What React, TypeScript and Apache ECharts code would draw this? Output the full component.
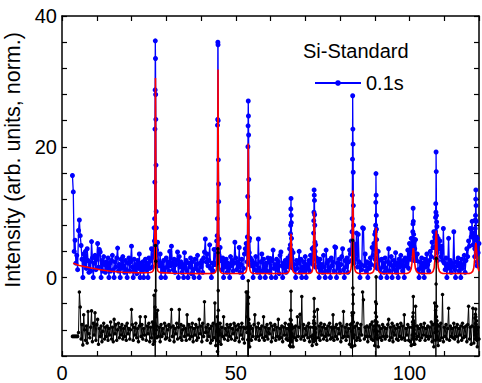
import { useEffect, useRef } from "react";
import * as echarts from "echarts";

// ---- data ----
const X_START = 3;
const X_STEP = 0.25;

// observed intensity (blue), 0.25 deg grid from 3 to 120; null = replaced by fine peak points
const obsGrid: (number | null)[] = [
  15.6, 13.1, 4.0, 5.7, 2.2, 3.4, 1.2, 7.2, 8.8, 6.4, 4.9, 2.8, 0, 3.6, 2.0, 4.0, 1.4, 4.4, 2.6, 0.8,
  2.4, 1.0, 5.5, 3.0, 0, 2.2, 3.4, 1.2, 2.8, 5.2, 1.6, 4.3, 3.9, 0, 2.6, 1.0, 3.2, 2.0, 0.8, 2.4,
  1.4, 3.0, 0, 2.2, 1.0, 2.6, 3.4, 1.2, 0, 2.4, 1.6, 3.0, 4.5, 1.0, 2.0, 0, 2.8, 1.4, 3.2, 1.8,
  0.8, 2.6, 1.2, 0, 2.2, 3.0, 1.0, 2.4, 4.8, 1.6, 0, 2.8, 1.2, 2.0, 0.6, 2.6, 1.4, 3.6, 0, 2.2,
  1.0, 2.4, 0, 1.8, 2.8, 1.2, 2.2, 0, 3.0, 1.4, 2.6, 4.4, 1.6, 4.2, 7.6, null, null, null, 5.4, 2.4,
  1.8, 3.6, 0, 2.2, 1.0, 2.6, 1.4, 0, 3.0, 1.6, 2.4, 1.0, 4.0, 1.8, 4.8, 2.2, 1.2, 2.8, 0.8, 2.0,
  2.6, 3.9, 0, 3.2, 1.6, 2.4, 0.8, 2.0, 0, 3.8, 1.4, 2.6, 1.0, 0, 2.2, 1.6, 3.0, 0.6, 2.4, 1.2,
  0, 2.8, 1.4, 2.0, 3.4, 1.0, 0, 2.2, 1.6, 2.6, 0.8, 3.0, 3.9, 5.9, 2.4, 3.6, 1.8, 2.6, 5.0, 1.4,
  0, 2.2, 1.0, 4.3, 2.0, 4.2, 5.6, null, null, null, 4.6, 2.6, 1.2, 3.0, 0, 2.4, 1.6, 2.8, 0.8, 2.2,
  1.4, 0, 3.2, 1.8, 2.6, 1.0, 2.2, 5.4, 3.0, 1.2, 2.4, 1.6, 4.6, 0.8, 2.0, 2.8, 0, 1.4, 3.6, 4.4,
  5.2, null, null, null, 6.0, 3.0, 1.8, 2.6, 0, 2.2, 1.2, 3.2, 2.0, 0.8, 5.9, 1.4, 0, 2.4, 3.6, 1.0,
  2.8, 1.6, 0, 2.2, 1.0, 3.0, 2.4, 0.8, 2.9, 0, 2.6, 4.2, 1.4, 2.0, 0, 2.8, 1.2, 2.4, 0.6, 3.4,
  3.9, 1.8, 0, 2.2, 1.4, 2.6, 0.8, 2.0, 3.0, 1.6, 4.4, null, null, null, 3.8, 2.0, 1.2, 0, 2.6, 1.4,
  2.2, 4.0, 0.8, 2.8, 0, 1.6, 2.4, 1.0, 3.2, 0, 2.0, 1.4, 2.6, 1.0, 3.4, 2.2, 4.4, null, null, null,
  5.0, 3.0, 1.6, 2.4, 0, 2.8, 1.2, 2.0, 0.8, 3.4, 1.6, 0, 4.2, 2.2, 1.0, 2.6, 1.4, 0, 3.0, 1.8,
  2.4, 1.0, 4.7, 4.6, 0, 2.2, 1.4, 2.8, 0.8, 2.0, 3.2, 4.4, 1.2, 0, 2.6, 1.6, 3.0, 0.8, 2.4, 4.2,
  3.6, 5.6, null, null, null, 4.8, 2.8, 6.8, 1.6, 6.6, 2.4, 0, 2.0, 1.2, 7.6, 7.5, 1.8, 3.6, 1.0, 2.4,
  0, 2.2, 1.4, 3.0, 2.0, 4.6, 3.4, 5.2, 6.6, null, null, null, 4.0, 2.6, 1.2, 0, 2.8, 1.6, 2.2, 0.8,
  3.0, 1.4, 0, 2.4, 4.4, 1.0, 2.0, 3.2, 0, 1.8, 2.6, 1.2, 3.8, 0.8, 2.2, 0, 2.8, 1.6, 3.4, 2.0,
  1.0, 2.6, 0, 3.0, 1.8, 2.4, 4.2, 1.4, 5.2, 2.8, 6.0, null, null, null, 4.4, 5.8, 2.6, 3.6, 1.2, 0,
  2.4, 1.4, 3.0, 0.8, 2.2, 0, 2.8, 1.6, 3.6, 2.0, 1.0, 2.6, 4.0, 3.2, 5.4, 4.6, 7.0, 6.2, null, null,
  null, 6.0, 4.4, 5.6, 3.2, 4.8, 2.6, 7.5, 2.2, 1.2, 3.0, 0, 2.0, 6.0, 1.4, 2.6, 0.8, 2.2, 1.6, 7.0,
  1.2, 0, 2.4, 1.8, 3.0, 1.0, 2.2, 0, 2.8, 1.4, 2.0, 3.4, 0.8, 2.6, 4.4, 3.2, 5.6, 4.8, 7.5, 6.2,
  8.6, 5.0, 6.8, null, null, null, 6.0, 3.8, 5.2,
];

// difference curve (black, offset), same grid
const diffGrid: (number | null)[] = [
  -9.0, -9.0, -9.0, -9.0, -9.0, -9.0, -9.0, -8.4, -2.2, -4.5, -9.4, -7.2, -10.3, -5.7, -8.0, -9.6, -7.4, -10.0, -5.2, -8.6,
  -9.2, -7.6, -5.1, -9.8, -7.0, -8.8, -5.4, -9.6, -7.2, -6.4, -10.2, -7.8, -9.0, -7.4, -9.8, -8.2, -7.0, -9.4, -7.6, -9.0,
  -7.4, -9.6, -7.8, -8.8, -6.8, -9.4, -7.6, -9.8, -6.4, -8.6, -7.2, -9.6, -8.0, -7.0, -9.2, -7.6, -8.8, -7.2, -9.4, -7.8,
  -9.0, -7.4, -9.6, -7.0, -8.6, -7.8, -9.4, -8.0, -4.9, -7.2, -9.6, -7.6, -8.8, -7.0, -9.2, -7.8, -9.8, -7.4, -6.0, -9.0,
  -7.2, -9.4, -7.8, -8.8, -6.0, -9.6, -7.4, -8.6, -7.0, -9.8, -7.6, -9.2, -6.8, -10.2, -2.7, null, null, null, -5.0, -9.0,
  -7.6, -9.8, -7.2, -9.0, -7.8, -8.6, -7.0, -9.4, -7.4, -9.2, -8.0, -7.2, -9.6, -7.6, -4.9, -9.0, -7.4, -9.8, -7.8, -8.6,
  -7.0, -9.4, -7.6, -4.9, -9.2, -7.2, -9.6, -8.0, -7.4, -9.0, -7.8, -9.6, -5.7, -8.8, -7.2, -9.4, -7.6, -9.0, -7.0, -9.8,
  -7.8, -8.8, -7.2, -9.6, -7.6, -9.2, -6.4, -8.6, -7.4, -9.8, -7.0, -9.0, -3.7, -8.4, -7.6, -9.6, -7.2, -9.0, -7.8, -10.0,
  -7.4, -9.6, -7.0, -9.2, -3.9, -10.4, -7.2, null, null, null, -7.0, -10.2, -7.6, -9.0, -6.0, -9.4, -7.8, -8.8, -7.2, -9.6,
  -7.6, -9.0, -7.2, -9.4, -7.8, -8.6, -7.0, -9.6, -7.4, -9.2, -8.0, -7.2, -9.8, -7.6, -8.8, -7.0, -9.4, -7.6, -10.0, -7.8,
  -2.2, null, null, null, -10.6, -7.4, -9.6, -7.8, -9.0, -7.2, -5.7, -9.4, -7.6, -9.0, -7.0, -9.6, -7.8, -8.8, -7.4, -9.2,
  -6.0, -9.6, -7.6, -9.0, -7.2, -9.4, -7.8, -8.6, -7.0, -9.8, -7.4, -9.2, -8.0, -7.2, -9.6, -7.6, -9.0, -6.4, -9.4, -7.8,
  -9.2, -7.4, -9.8, -7.6, -8.8, -7.0, -9.4, -7.8, -9.6, -7.2, -10.4, null, null, null, -10.6, -7.6, -9.2, -7.4, -9.6, -6.0,
  -9.0, -7.6, -5.6, -9.4, -2.9, -9.0, -7.2, -9.6, -7.8, -8.8, -7.4, -9.2, -7.0, -9.8, -7.6, -9.0, -10.4, null, null, null,
  -7.8, -10.2, -4.9, -9.2, -7.4, -9.6, -7.0, -8.8, -7.6, -9.4, -7.2, -9.0, -7.8, -9.6, -7.4, -8.8, -7.0, -9.4, -7.6, -9.2,
  -5.7, -9.6, -7.6, -9.0, -7.2, -9.4, -7.8, -8.6, -7.0, -9.8, -7.4, -9.2, -5.2, -9.0, -7.6, -9.6, -7.2, -9.0, -7.8, -10.2,
  -7.2, -10.6, null, null, null, -10.4, -7.4, -9.6, -7.0, -9.2, -7.8, -9.6, -7.2, -8.8, -2.2, -3.4, -9.4, -7.6, -9.0, -7.4,
  -9.8, -7.6, -9.0, -7.2, -9.4, -6.8, -9.6, -7.4, -10.4, null, null, null, -10.6, -7.4, -9.2, -7.8, -9.6, -7.2, -9.0, -7.6,
  -9.4, -7.8, -9.0, -7.2, -6.4, -9.6, -7.6, -9.2, -7.0, -9.8, -7.4, -8.8, -7.8, -9.4, -7.2, -9.6, -7.6, -9.0, -7.0, -9.4,
  -7.4, -9.2, -5.7, -9.6, -7.8, -8.8, -7.2, -9.6, -7.6, -9.8, -10.4, null, null, null, -10.2, -4.4, -9.4, -7.4, -9.0, -7.8,
  -9.6, -7.2, -9.2, -7.6, -8.8, -7.0, -9.6, -7.8, -9.0, -7.4, -9.4, -7.6, -9.0, -6.8, -9.8, -7.2, -10.6, -3.9, null, null,
  null, -10.4, -7.4, -9.6, -7.0, -9.2, -2.6, -9.8, -7.6, -9.0, -7.2, -9.4, -7.8, -4.7, -9.6, -7.4, -9.0, -7.8, -9.2, -7.0,
  -9.4, -7.6, -9.0, -7.2, -9.8, -7.8, -8.8, -7.4, -9.6, -7.0, -9.2, -7.6, -9.0, -7.4, -9.8, -7.2, -4.4, -9.4, -7.6, -10.2,
  -7.4, -4.7, -10.0, null, null, null, -10.6, -7.6, -9.4,
];

// Bragg peaks: centres, and finely sampled points (0.05 deg, 15 points centred on each peak)
const peakCenters = [26.9, 44.9, 53.6, 65.9, 72.6, 83.7, 90.4, 101.1, 107.7, 119.1];
const PEAK_STEP = 0.05;

const obsPeaks: number[][] = [
  [3.1, 5.6, 9.0, 14.6, 22.7, 28.7, 36.2, 33.5, 28.0, 24.2, 17.2, 10.1, 7.6, 4.2, 2.5],
  [2.2, 4.3, 6.4, 9.0, 23.3, 24.2, 36.0, 35.6, 24.0, 18.0, 14.3, 11.6, 5.9, 3.4, 2.6],
  [2.4, 4.0, 6.2, 9.6, 12.4, 20.0, 23.2, 27.0, 24.7, 21.8, 15.0, 9.2, 5.6, 3.8, 2.0],
  [1.8, 2.6, 3.4, 5.0, 6.7, 8.0, 10.5, 12.1, 9.5, 8.4, 6.0, 4.2, 3.0, 2.2, 1.5],
  [2.0, 3.2, 4.6, 6.8, 8.7, 10.0, 13.4, 12.6, 11.8, 9.6, 8.0, 5.4, 4.0, 2.8, 1.6],
  [2.6, 4.2, 7.0, 9.0, 12.6, 18.1, 27.8, 22.7, 20.4, 16.1, 11.0, 8.0, 5.2, 3.4, 2.2],
  [1.8, 2.8, 4.4, 7.0, 8.0, 11.5, 15.9, 12.6, 9.5, 7.4, 5.8, 4.0, 2.9, 2.0, 1.4],
  [2.8, 3.6, 5.2, 4.6, 7.0, 8.2, 10.6, 8.6, 5.9, 6.6, 4.8, 5.4, 3.6, 2.6, 3.2],
  [3.0, 4.6, 7.0, 9.2, 11.3, 10.0, 19.2, 16.2, 9.5, 8.5, 6.4, 7.8, 5.0, 3.8, 2.6],
  [3.2, 4.4, 5.8, 7.5, 8.8, 9.5, 12.0, 13.4, 11.0, 8.6, 6.2, 4.6, 3.5, 2.4, 1.8],
];

const diffPeaks: number[][] = [
  [-8.6, -7.2, -9.8, -7.0, -4.5, -12.5, -15, 4.9, -2.0, 2.5, -6.0, -5.5, -8.0, -7.4, -9.2],
  [-8.2, -9.6, -7.4, -6.0, -11.3, -20, 4.4, 3.8, -2.0, -5.0, -13, -7.0, -9.8, -8.0, -8.8],
  [-8.4, -7.6, -6.0, -2.2, -9.5, -14, -4.0, -0.5, -13, -3.0, -6.4, -7.0, -9.4, -7.8, -8.6],
  [-8.0, -9.2, -7.6, -6.4, -8.8, -10.6, -5.0, -2.1, -6.5, -7.2, -9.8, -7.4, -8.6, -7.8, -9.0],
  [-8.8, -7.6, -9.4, -7.0, -6.6, -9.8, -3.2, -6.0, -5.2, -8.6, -7.0, -9.6, -7.6, -8.4, -9.2],
  [-8.2, -7.0, -5.4, -10.6, -5.8, -13, 5.7, -1.6, -4.0, -2.6, -6.8, -5.4, -9.2, -7.6, -8.8],
  [-8.0, -6.6, -9.2, -5.4, -3.7, -8.2, -12.8, 0.1, -4.0, -6.0, -7.2, -8.8, -6.8, -9.4, -8.2],
  [-7.6, -8.8, -6.8, -9.4, -6.0, -7.2, -5.4, -2.9, -6.6, -10.2, -7.0, -8.0, -9.0, -7.4, -8.6],
  [-8.4, -7.0, -9.6, -5.0, -7.8, -13, -1.0, 2.9, -6.0, -4.4, -9.0, -6.6, -8.2, -7.2, -9.4],
  [-7.6, -8.8, -6.2, -9.4, -5.6, -7.0, -4.8, -6.0, -8.6, -7.2, -9.2, -6.6, -8.0, -9.6, -7.8],
];

// fitted profile (red): [2theta, intensity]
const fitCurve: [number, number][] = [
  [3.2, 2.2], [5, 1.85], [8, 1.5], [11, 1.2], [14, 0.95], [17.5, 0.8], [21, 0.75], [24, 0.74],
  [25.4, 0.78], [25.9, 0.85], [26.2, 1.0], [26.4, 1.4], [26.55, 2.2], [26.65, 3.6], [26.75, 8.5], [26.82, 18],
  [26.9, 30.5], [26.98, 18], [27.05, 8.5], [27.15, 3.6], [27.25, 2.2], [27.4, 1.4], [27.6, 1.0], [27.9, 0.85],
  [28.4, 0.75], [32, 0.65], [36, 0.62], [40, 0.6],
  [43.4, 0.62], [43.9, 0.7], [44.2, 0.85], [44.4, 1.2], [44.55, 2.0], [44.65, 3.4], [44.75, 8.2], [44.82, 18.5],
  [44.9, 31.8], [44.98, 18.5], [45.05, 8.2], [45.15, 3.4], [45.25, 2.0], [45.4, 1.2], [45.6, 0.85], [45.9, 0.7],
  [46.4, 0.62],
  [52.1, 0.62], [52.6, 0.7], [52.9, 0.85], [53.1, 1.15], [53.25, 1.8], [53.35, 2.8], [53.45, 6.0], [53.52, 12.5],
  [53.6, 20.5], [53.68, 12.5], [53.75, 6.0], [53.85, 2.8], [53.95, 1.8], [54.1, 1.15], [54.3, 0.85], [54.6, 0.7],
  [55.1, 0.62],
  [64.4, 0.62], [64.9, 0.7], [65.2, 0.85], [65.4, 1.1], [65.55, 1.6], [65.7, 3.0], [65.8, 4.9], [65.9, 6.7],
  [66.0, 4.9], [66.1, 3.0], [66.25, 1.6], [66.4, 1.1], [66.6, 0.85], [66.9, 0.7], [67.4, 0.62],
  [71.1, 0.62], [71.6, 0.7], [71.9, 0.85], [72.1, 1.2], [72.25, 1.9], [72.4, 4.0], [72.5, 7.2], [72.6, 10.1],
  [72.7, 7.2], [72.8, 4.0], [72.95, 1.9], [73.1, 1.2], [73.3, 0.85], [73.6, 0.7], [74.1, 0.62],
  [82.0, 0.62], [82.5, 0.72], [82.9, 0.9], [83.15, 1.3], [83.35, 2.4], [83.5, 5.0], [83.6, 9.0], [83.7, 13.3],
  [83.8, 9.0], [83.9, 5.0], [84.05, 2.4], [84.25, 1.3], [84.5, 0.9], [84.9, 0.72], [85.4, 0.62],
  [88.7, 0.62], [89.2, 0.72], [89.6, 0.9], [89.85, 1.3], [90.05, 2.3], [90.2, 4.2], [90.3, 6.0], [90.4, 7.6],
  [90.5, 6.0], [90.6, 4.2], [90.75, 2.3], [90.95, 1.3], [91.2, 0.9], [91.6, 0.72], [92.1, 0.62],
  [99.2, 0.62], [99.8, 0.75], [100.2, 0.95], [100.5, 1.4], [100.7, 2.2], [100.85, 3.2], [101.0, 4.2], [101.1, 4.5],
  [101.2, 4.2], [101.35, 3.2], [101.5, 2.2], [101.7, 1.4], [102.0, 0.95], [102.4, 0.75], [103.0, 0.62],
  [105.8, 0.62], [106.4, 0.75], [106.8, 0.95], [107.1, 1.5], [107.3, 2.6], [107.45, 4.2], [107.6, 6.4], [107.7, 7.2],
  [107.8, 6.4], [107.95, 4.2], [108.1, 2.6], [108.3, 1.5], [108.6, 0.95], [109.0, 0.75], [109.6, 0.62],
  [117.2, 0.62], [117.8, 0.75], [118.2, 0.95], [118.5, 1.5], [118.7, 2.5], [118.85, 3.8], [119.0, 5.0], [119.1, 5.3],
  [119.2, 5.0], [119.35, 3.8], [119.5, 2.5], [119.7, 1.5], [120.0, 0.95],
];

const xTickLabels = [0, 50, 100];
const yTickLabels = [0, 20, 40];
const legendTitle = "Si-Standard";
const seriesName = "0.1s";
const yAxisTitle = "Intensity (arb. units, norm.)";

const FONT = "'Liberation Sans', Arial, Helvetica, sans-serif";

function buildPoints(grid: (number | null)[], peaks: number[][]): [number, number][] {
  const pts: [number, number][] = [];
  grid.forEach((v, i) => {
    if (v !== null) pts.push([+(X_START + i * X_STEP).toFixed(3), v]);
  });
  peaks.forEach((arr, p) => {
    const half = (arr.length - 1) / 2;
    arr.forEach((v, k) => pts.push([+(peakCenters[p] + (k - half) * PEAK_STEP).toFixed(3), v]));
  });
  pts.sort((a, b) => a[0] - b[0]);
  return pts;
}

export default function App() {
  const ref = useRef<HTMLDivElement>(null);

  useEffect(() => {
    if (!ref.current) return;
    const chart = echarts.init(ref.current, undefined, { renderer: "svg" });

    const obsPoints = buildPoints(obsGrid, obsPeaks);
    const diffPoints = buildPoints(diffGrid, diffPeaks);

    const axisLine = { show: true, onZero: false, lineStyle: { color: "#000", width: 1.5 } };
    const axisTick = { show: true, inside: true, length: 5, lineStyle: { color: "#000", width: 1.2 } };

    const option: any = {
      animation: false,
      backgroundColor: "#fff",
      grid: { left: 62, right: 1, top: 16, bottom: 26, containLabel: false },
      xAxis: [
        {
          type: "value", position: "bottom", min: 0, max: 120, interval: 10,
          axisLine, axisTick, splitLine: { show: false },
          axisLabel: {
            formatter: (v: number) => (xTickLabels.includes(v) ? String(v) : ""),
            color: "#000", fontSize: 20, fontFamily: FONT, margin: 7, hideOverlap: false,
          },
        },
        {
          type: "value", position: "top", min: 0, max: 120, interval: 10,
          axisLine, axisTick, splitLine: { show: false }, axisLabel: { show: false },
        },
      ],
      yAxis: [
        {
          type: "value", position: "left", min: -12, max: 40, interval: 4,
          axisLine, axisTick, splitLine: { show: false },
          axisLabel: {
            formatter: (v: number) => (yTickLabels.includes(v) ? String(v) : ""),
            color: "#000", fontSize: 20, fontFamily: FONT, margin: 5,
          },
        },
        {
          type: "value", position: "right", min: -12, max: 40, interval: 4,
          axisLine, axisTick, splitLine: { show: false }, axisLabel: { show: false },
        },
      ],
      legend: {
        data: [seriesName],
        left: 309, top: 68,
        itemWidth: 46, itemHeight: 7, itemGap: 0,
        textStyle: { fontSize: 20, fontFamily: FONT, color: "#000" },
        selectedMode: false,
      },
      graphic: [
        {
          type: "text", left: 303, top: 41,
          style: { text: legendTitle, font: `20px ${FONT}`, fill: "#000" },
        },
        {
          type: "text", x: 13, y: 160, rotation: Math.PI / 2,
          style: { text: yAxisTitle, font: `21.5px ${FONT}`, fill: "#000", align: "center", verticalAlign: "middle" },
        },
      ],
      series: [
        {
          name: seriesName, type: "line", data: obsPoints,
          color: "#0000ff", symbol: "circle", symbolSize: 5, showSymbol: true, showAllSymbol: true,
          lineStyle: { width: 1.3, color: "#0000ff" }, itemStyle: { color: "#0000ff" },
          z: 2, emphasis: { disabled: true },
        },
        {
          name: "fit", type: "line", data: fitCurve, symbol: "none",
          lineStyle: { width: 1.6, color: "#ff0000" }, z: 3, emphasis: { disabled: true },
        },
        {
          name: "diff", type: "line", data: diffPoints,
          color: "#000", symbol: "circle", symbolSize: 3.5, showSymbol: true, showAllSymbol: true,
          lineStyle: { width: 1, color: "#000" }, itemStyle: { color: "#000" },
          z: 4, emphasis: { disabled: true },
        },
      ],
    };
    chart.setOption(option);
    return () => chart.dispose();
  }, []);

  return (
    <div
      ref={ref}
      style={{ position: "fixed", left: 0, top: 0, width: 482, height: 383, background: "#fff" }}
    />
  );
}
